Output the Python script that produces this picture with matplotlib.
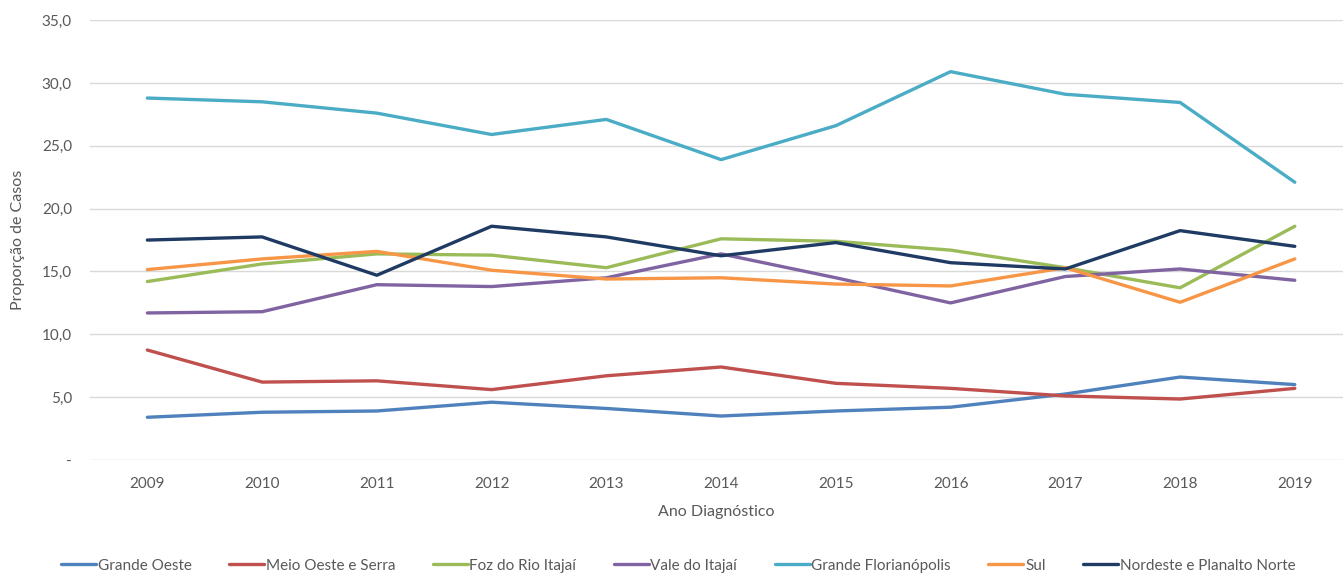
import numpy as np
import matplotlib
matplotlib.use("Agg")
import matplotlib.pyplot as plt
from matplotlib.ticker import FuncFormatter

plt.rcParams['font.family'] = ['Lato', 'DejaVu Sans']

# -----------------------------
# Data
# -----------------------------
anos = [2009, 2010, 2011, 2012, 2013, 2014, 2015, 2016, 2017, 2018, 2019]

grande_oeste = [3.4, 3.8, 3.9, 4.6, 4.1, 3.5, 3.9, 4.2, 5.25, 6.6, 6.0]
meio_oeste_serra = [8.75, 6.2, 6.3, 5.6, 6.7, 7.4, 6.1, 5.7, 5.1, 4.85, 5.7]
foz_rio_itajai = [14.2, 15.6, 16.4, 16.3, 15.3, 17.6, 17.4, 16.7, 15.3, 13.7, 18.6]
vale_itajai = [11.7, 11.8, 13.95, 13.8, 14.5, 16.4, 14.5, 12.5, 14.6, 15.2, 14.3]
grande_florianopolis = [28.8, 28.5, 27.6, 25.9, 27.1, 23.9, 26.6, 30.9, 29.1, 28.45, 22.1]
sul = [15.15, 16.0, 16.6, 15.1, 14.4, 14.5, 14.0, 13.85, 15.3, 12.55, 16.0]
nordeste_planalto = [17.5, 17.75, 14.7, 18.6, 17.75, 16.25, 17.3, 15.7, 15.2, 18.25, 17.0]

series = [
    ("Grande Oeste", grande_oeste, "#4f81bd"),
    ("Meio Oeste e Serra", meio_oeste_serra, "#c0504d"),
    ("Foz do Rio Itajaí", foz_rio_itajai, "#9bbb59"),
    ("Vale do Itajaí", vale_itajai, "#8064a2"),
    ("Grande Florianópolis", grande_florianopolis, "#4bacc6"),
    ("Sul", sul, "#f79646"),
    ("Nordeste e Planalto Norte", nordeste_planalto, "#1f3b63"),
]

# -----------------------------
# Plot
# -----------------------------
fig = plt.figure(figsize=(13.43, 5.75), dpi=100)
ax = fig.add_axes([0.067, 0.2, 0.933, 0.765])

for nome, valores, cor in series:
    ax.plot(anos, valores, color=cor, linewidth=2.4, label=nome,
            solid_capstyle='round')

ax.set_xlim(2008.5, 2019.42)
ax.set_ylim(0, 35)
ax.set_yticks(np.arange(0, 36, 5))
ax.set_xticks(anos)
ax.yaxis.set_major_formatter(FuncFormatter(
    lambda v, p: "-" if v == 0 else f"{v:.1f}".replace(".", ",")))

ax.grid(axis='y', color='#d9d9d9', linewidth=1)
ax.set_axisbelow(True)
for s in ax.spines.values():
    s.set_visible(False)
ax.tick_params(length=0, colors='#595959', labelsize=11)
ax.tick_params(axis='x', pad=12)
ax.tick_params(axis='y', pad=13)

ax.set_xlabel("Ano Diagnóstico", color='#595959', fontsize=11.5, labelpad=10)
ax.set_ylabel("Proporção de Casos", color='#595959', fontsize=11.5, labelpad=12)

fig.legend(loc='center', bbox_to_anchor=(0.505, 0.016), ncol=7,
           frameon=False, fontsize=11, handlelength=2.3, columnspacing=2.45,
           handletextpad=0.1, labelcolor='#595959', borderpad=0)

fig.savefig("out.png", dpi=100)
